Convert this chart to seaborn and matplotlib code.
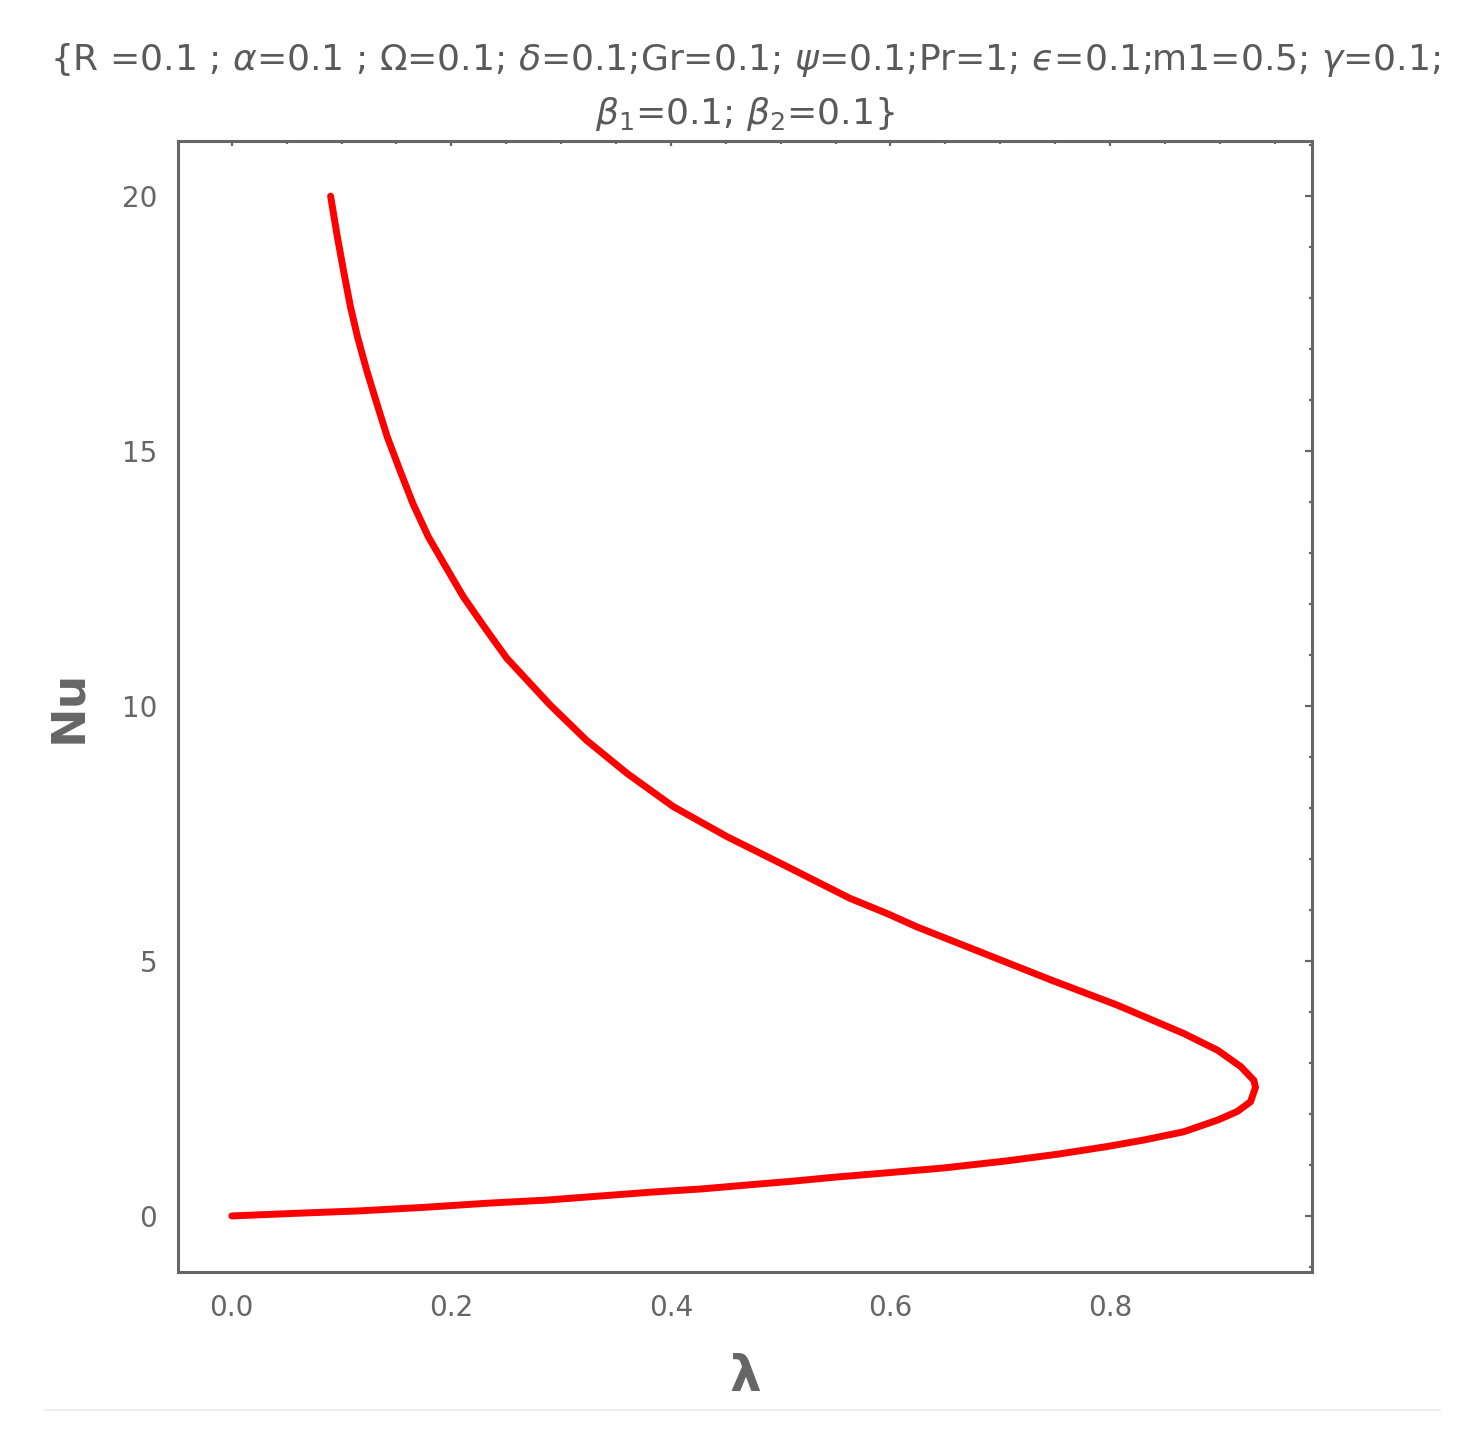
import matplotlib
matplotlib.use("Agg")
import matplotlib.pyplot as plt
from matplotlib.lines import Line2D
from matplotlib.ticker import MultipleLocator
import seaborn as sns

# curve: lower branch from (0, 0) to the nose, then the upper branch
lam = [0.0, 0.056, 0.117, 0.176, 0.233, 0.286, 0.335, 0.384, 0.428, 0.471,
       0.51, 0.549, 0.588, 0.648, 0.706, 0.752, 0.797, 0.831, 0.867, 0.898,
       0.916, 0.928, 0.9325, 0.931, 0.919, 0.898, 0.867, 0.806, 0.746, 0.685,
       0.624, 0.597, 0.563, 0.4995, 0.451, 0.402, 0.360, 0.323, 0.290, 0.2504,
       0.232, 0.211, 0.193, 0.179, 0.165, 0.153, 0.1416, 0.132, 0.1228, 0.1145,
       0.108, 0.1022, 0.096, 0.090]
nu = [0.0, 0.05, 0.10, 0.17, 0.25, 0.31, 0.39, 0.47, 0.53, 0.61,
      0.68, 0.76, 0.83, 0.94, 1.08, 1.21, 1.36, 1.49, 1.65, 1.88,
      2.05, 2.24, 2.52, 2.66, 2.93, 3.25, 3.58, 4.14, 4.63, 5.15,
      5.67, 5.93, 6.23, 6.92, 7.44, 8.03, 8.68, 9.33, 10.02, 10.94,
      11.49, 12.14, 12.80, 13.32, 13.97, 14.63, 15.28, 15.94, 16.59, 17.24,
      17.84, 18.49, 19.22, 20.0]

x_ticks = [0.0, 0.2, 0.4, 0.6, 0.8]
y_ticks = [0, 5, 10, 15, 20]

title = ("{R =0.1 ; $\\alpha$=0.1 ; $\\Omega$=0.1; $\\delta$=0.1;Gr=0.1; "
         "$\\psi$=0.1;Pr=1; $\u03f5$=0.1;m1=0.5; $\\gamma$=0.1;\n"
         "$\\beta_1$=0.1; $\\beta_2$=0.1}")

sns.set_style("white")
plt.rcParams["font.family"] = ["DejaVu Sans"]
plt.rcParams["mathtext.fontset"] = "dejavusans"

gray = "#666666"

fig = plt.figure(figsize=(14.76, 14.32), dpi=100)
ax = fig.add_axes([0.1206, 0.1117, 0.7683, 0.7898])

sns.lineplot(x=lam, y=nu, sort=False, estimator=None, color="#ff0000",
             linewidth=5, ax=ax)

ax.set_xlim(-0.049, 0.984)
ax.set_ylim(-1.1, 21.08)
ax.set_xticks(x_ticks)
ax.set_xticklabels(["0.0", "0.2", "0.4", "0.6", "0.8"])
ax.set_yticks(y_ticks)
ax.xaxis.set_minor_locator(MultipleLocator(0.05))
ax.yaxis.set_minor_locator(MultipleLocator(1))

for s in ax.spines.values():
    s.set_color(gray)
    s.set_linewidth(2.2)

ax.tick_params(axis="both", which="both", direction="in", colors=gray,
               top=True, right=True, width=1.6)
ax.tick_params(axis="x", which="major", length=3.5, pad=16, labelsize=20)
ax.tick_params(axis="x", which="minor", length=2.5)
ax.tick_params(axis="y", which="major", length=5, pad=15, labelsize=20)
ax.tick_params(axis="y", which="minor", length=2.5)

ax.set_xlabel("λ", fontsize=36, fontweight="bold", color=gray, labelpad=22)
ax.set_ylabel("Nu", fontsize=34, fontweight="bold", color=gray, labelpad=22)

ax.set_title(title, fontsize=26, color="#5a5a5a", pad=12, linespacing=1.55)

fig.add_artist(Line2D([45 / 1476, 1440 / 1476], [1 - 1410 / 1432] * 2,
                      color="#eeeeee", linewidth=1.5))

plt.savefig("out.png", dpi=100)
